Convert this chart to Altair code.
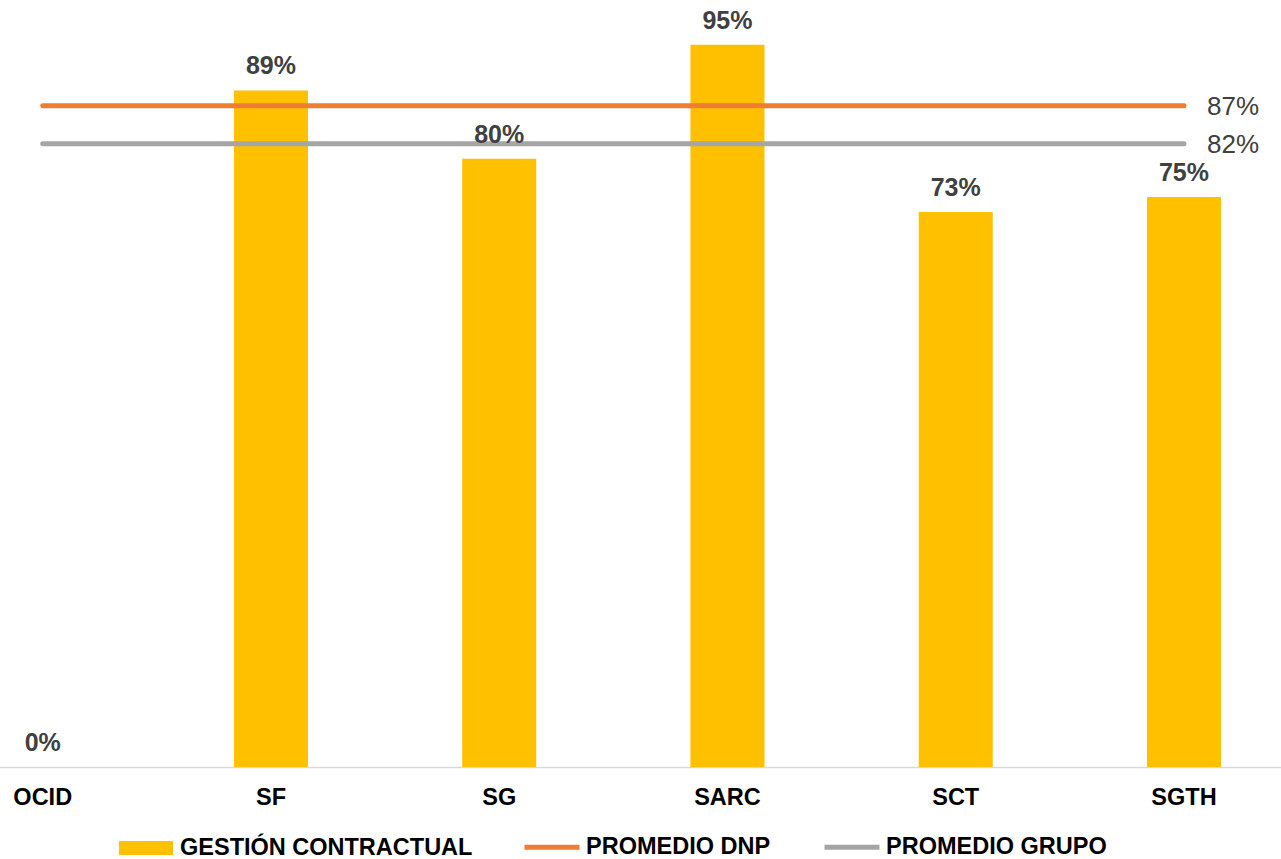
import altair as alt
import pandas as pd

# Contract-management compliance by area, with DNP and group averages
categories = ["OCID", "SF", "SG", "SARC", "SCT", "SGTH"]
gestion = [0.0, 0.89, 0.80, 0.95, 0.73, 0.75]
promedio_dnp = 0.87
promedio_grupo = 0.82

series_bar = "GESTIÓN CONTRACTUAL"
series_lines = ["PROMEDIO DNP", "PROMEDIO GRUPO"]

FONT = "Liberation Sans"

bars_df = pd.DataFrame({"area": categories, "valor": gestion, "serie": series_bar})
lines_df = pd.DataFrame({
    "area": categories * 2,
    "valor": [promedio_dnp] * len(categories) + [promedio_grupo] * len(categories),
    "serie": [series_lines[0]] * len(categories) + [series_lines[1]] * len(categories),
})
ends_df = lines_df[lines_df["area"] == categories[-1]]

x = alt.X(
    "area:N",
    sort=categories,
    scale=alt.Scale(range=[-71.4, 1298.1], paddingInner=0.676, paddingOuter=0.338),
    axis=alt.Axis(
        title=None, labelAngle=0, labelFont=FONT, labelFontSize=23.5,
        labelFontWeight="bold", labelColor="#000000", labelPadding=18,
        ticks=False, domainColor="#d9d9d9", domainWidth=1.5, grid=False,
    ),
)
y = alt.Y("valor:Q", scale=alt.Scale(domain=[0, 1.009], nice=False, zero=True), axis=None)

bars = alt.Chart(bars_df).mark_bar(size=74).encode(
    x=x,
    y=y,
    fill=alt.Fill(
        "serie:N",
        scale=alt.Scale(domain=[series_bar], range=["#FFC000"]),
        legend=alt.Legend(
            title=None, orient="none", legendX=119, legendY=821,
            symbolType="M-1,-0.26H1V0.26H-1Z", symbolSize=2916,
            symbolStrokeWidth=0, symbolOpacity=1, labelOffset=7,
        ),
    ),
)

bar_labels = alt.Chart(bars_df).mark_text(
    font=FONT, fontSize=25, fontWeight="bold", color="#404040",
    baseline="alphabetic", dy=-16,
).encode(x=x, y=y, text=alt.Text("valor:Q", format=".0%"))

lines = alt.Chart(lines_df).mark_line(strokeWidth=5, strokeCap="round").encode(
    x=x,
    y=y,
    detail="serie:N",
    stroke=alt.Stroke(
        "serie:N",
        scale=alt.Scale(domain=series_lines, range=["#ED7D31", "#A5A5A5"]),
        legend=alt.Legend(
            title=None, orient="none", legendX=522, legendY=817,
            direction="horizontal", symbolType="stroke", symbolSize=3025,
            symbolStrokeWidth=5, columnPadding=43, labelOffset=4,
        ),
    ),
)

line_labels = alt.Chart(ends_df).mark_text(
    font=FONT, fontSize=26, color="#404040", align="left",
    baseline="middle", dx=23, dy=1,
).encode(x=x, y=y, text=alt.Text("valor:Q", format=".0%"))

chart = (
    alt.layer(bars, lines, bar_labels, line_labels)
    .properties(
        width=1281, height=767,
        autosize=alt.AutoSizeParams(type="none"),
        padding={"left": 0, "top": 0, "right": 0, "bottom": 92},
        background="#ffffff",
    )
    .configure_view(stroke=None)
    .configure_legend(
        labelFont=FONT, labelFontSize=23.5, labelFontWeight="bold",
        labelColor="#000000", padding=0, labelLimit=400,
    )
)

chart.save("out.html", embed_options={"renderer": "svg", "actions": False})
